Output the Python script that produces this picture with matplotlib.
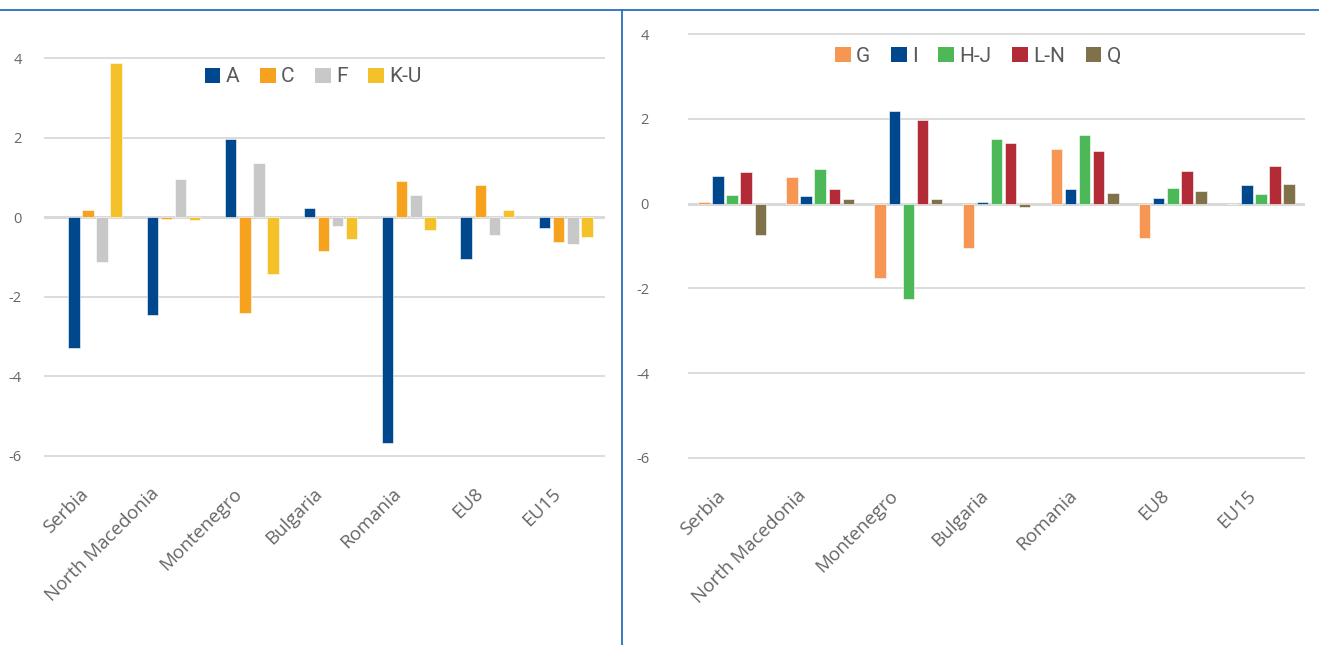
import numpy as np
import matplotlib
matplotlib.use("Agg")
import matplotlib.pyplot as plt
from matplotlib.lines import Line2D
from matplotlib.patches import Patch

# Data
countries = ["Serbia", "North Macedonia", "Montenegro", "Bulgaria", "Romania", "EU8", "EU15"]

left_labels = ["A", "C", "F", "K-U"]
left_colors = ["#00488D", "#F7A21E", "#C8C8C8", "#F4C12A"]
sector_A = [-3.28, -2.45, 1.97, 0.22, -5.68, -1.05, -0.28]
sector_C = [0.18, -0.05, -2.40, -0.85, 0.92, 0.80, -0.62]
sector_F = [-1.13, 0.97, 1.37, -0.22, 0.55, -0.45, -0.68]
sector_KU = [3.87, -0.07, -1.43, -0.55, -0.32, 0.17, -0.50]

right_labels = ["G", "I", "H-J", "L-N", "Q"]
right_colors = ["#F79552", "#00488D", "#4DB857", "#B22B36", "#80714A"]
sector_G = [0.05, 0.62, -1.75, -1.05, 1.30, -0.80, 0.0]
sector_I = [0.65, 0.18, 2.18, 0.03, 0.35, 0.13, 0.43]
sector_HJ = [0.20, 0.82, -2.25, 1.52, 1.62, 0.37, 0.22]
sector_LN = [0.75, 0.35, 1.98, 1.44, 1.25, 0.76, 0.89]
sector_Q = [-0.75, 0.10, 0.10, -0.08, 0.25, 0.30, 0.47]

yticks = [4, 2, 0, -2, -4, -6]

tick_color = "#666666"
grid_color = "#D9D9D9"

fig = plt.figure(figsize=(13.19, 6.45), dpi=100)


def draw_panel(ax, series, labels, colors, width, step, xlim, legend_pos):
    x = np.arange(len(countries))
    n = len(series)
    for i, (vals, col) in enumerate(zip(series, colors)):
        offs = (i - (n - 1) / 2) * step
        ax.bar(x + offs, vals, width=width, color=col, edgecolor="white",
               linewidth=0.4, zorder=3)
    ax.set_ylim(-6.03, 4.03)
    ax.set_xlim(*xlim)
    ax.set_yticks(yticks)
    ax.set_yticklabels([str(t) for t in yticks], family="Open Sans",
                       fontsize=10.5, color=tick_color)
    ax.yaxis.grid(True, color=grid_color, linewidth=1.3, zorder=0)
    ax.axhline(0, color=grid_color, linewidth=2.2, zorder=1)
    ax.tick_params(axis="y", length=0, pad=16)
    ax.set_xticks(x)
    ax.set_xticklabels([])
    ax.tick_params(axis="x", length=0)
    for s in ax.spines.values():
        s.set_visible(False)
    for xi, name in zip(x, countries):
        ax.annotate(name, xy=(xi, 0), xycoords=("data", "axes fraction"),
                    xytext=(-4 - 0.9 * len(name), -34), textcoords="offset pixels",
                    rotation=45, rotation_mode="anchor", ha="right", va="center",
                    family="Open Sans", fontsize=13.5, color=tick_color)
    handles = [Patch(facecolor=c, edgecolor="none") for c in colors]
    ax.legend(handles, labels, loc="center", bbox_to_anchor=legend_pos, ncol=n,
              frameon=False, handlelength=0.75, handleheight=0.75, handletextpad=0.25,
              columnspacing=1.0, prop={"family": "Roboto", "size": 15},
              labelcolor="#595959")


ax1 = fig.add_axes([44 / 1319, 1 - 457 / 645, 561 / 1319, 400 / 645])
draw_panel(ax1, [sector_A, sector_C, sector_F, sector_KU], left_labels, left_colors,
           width=0.145, step=0.18, xlim=(-0.65, 6.5), legend_pos=(0.48, 0.95))

ax2 = fig.add_axes([688 / 1319, 1 - 459 / 645, 617 / 1319, 426 / 645])
draw_panel(ax2, [sector_G, sector_I, sector_HJ, sector_LN, sector_Q], right_labels,
           right_colors, width=0.13, step=0.16, xlim=(-0.5, 6.5),
           legend_pos=(0.47, 0.945))
ax2.tick_params(axis="y", pad=28)

# frame lines
fig.add_artist(Line2D([0, 1], [1 - 10 / 645, 1 - 10 / 645], color="#2A6EBB", linewidth=1.3))
fig.add_artist(Line2D([622 / 1319, 622 / 1319], [0, 1 - 10 / 645], color="#2A6EBB", linewidth=1.3))

fig.savefig("out.png", dpi=100)
